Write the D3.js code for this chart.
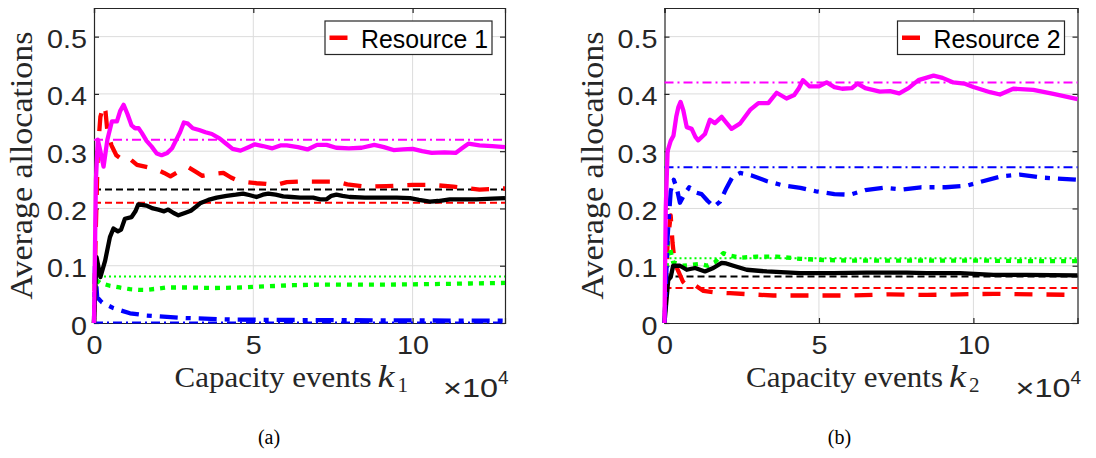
<!DOCTYPE html>
<html>
<head>
<meta charset="utf-8">
<script src="https://cdn.jsdelivr.net/npm/d3@7"></script>
<style>
  html, body { margin: 0; padding: 0; background: #fff; }
  svg { display: block; }
</style>
</head>
<body>
<svg id="fig" width="1096" height="458"></svg>
<script>
// ---- shared axis ticks ----
const xTicks = [0, 5, 10];
const yTicks = [0, 0.1, 0.2, 0.3, 0.4, 0.5];
const yTickLabels = ["0", "0.1", "0.2", "0.3", "0.4", "0.5"];

// ---- panel (a): resource 1, average allocation per user class (x in units of 10^4) ----
const aMagenta = [[0,0],[0.06,0.25],[0.12,0.32],[0.2,0.3],[0.3,0.273],[0.42,0.32],[0.56,0.352],[0.72,0.352],[0.82,0.37],[0.93,0.381],[1.05,0.365],[1.18,0.345],[1.29,0.34],[1.4,0.34],[1.5,0.332],[1.65,0.318],[1.81,0.308],[1.97,0.296],[2.12,0.293],[2.3,0.297],[2.45,0.305],[2.6,0.322],[2.7,0.333],[2.82,0.35],[2.95,0.348],[3.1,0.34],[3.3,0.337],[3.5,0.333],[3.7,0.33],[3.95,0.322],[4.15,0.313],[4.35,0.304],[4.6,0.301],[4.85,0.307],[5.05,0.312],[5.3,0.309],[5.6,0.305],[5.85,0.31],[6.05,0.31],[6.4,0.307],[6.7,0.303],[7.0,0.311],[7.3,0.311],[7.6,0.306],[8.0,0.305],[8.4,0.306],[8.8,0.311],[9.1,0.307],[9.4,0.302],[9.7,0.303],[10.0,0.304],[10.3,0.3],[10.6,0.297],[11.0,0.298],[11.35,0.297],[11.55,0.305],[11.75,0.313],[12.1,0.31],[12.5,0.309],[12.9,0.307]];
const aRed = [[0,0],[0.05,0.15],[0.12,0.3],[0.2,0.36],[0.3,0.38],[0.36,0.37],[0.42,0.335],[0.55,0.31],[0.7,0.293],[0.87,0.286],[1.05,0.29],[1.2,0.283],[1.35,0.276],[1.6,0.273],[1.97,0.268],[2.2,0.262],[2.4,0.256],[2.7,0.266],[2.96,0.272],[3.2,0.264],[3.4,0.257],[3.7,0.26],[4.06,0.262],[4.3,0.254],[4.5,0.249],[4.8,0.246],[5.1,0.244],[5.4,0.243],[5.7,0.241],[6.05,0.246],[6.4,0.247],[6.88,0.247],[7.3,0.247],[7.61,0.247],[7.95,0.242],[8.56,0.238],[9.18,0.239],[10.0,0.241],[10.65,0.241],[11.28,0.238],[12.1,0.233],[12.9,0.235]];
const aBlack = [[0,0],[0.08,0.115],[0.2,0.08],[0.35,0.109],[0.5,0.15],[0.61,0.165],[0.75,0.16],[0.85,0.163],[0.97,0.182],[1.18,0.185],[1.3,0.195],[1.39,0.207],[1.65,0.205],[1.85,0.2],[2.02,0.198],[2.2,0.195],[2.33,0.198],[2.5,0.192],[2.65,0.188],[2.85,0.192],[3.04,0.196],[3.2,0.203],[3.33,0.209],[3.59,0.215],[3.85,0.219],[4.16,0.222],[4.45,0.224],[4.68,0.226],[4.9,0.223],[5.1,0.22],[5.3,0.224],[5.47,0.226],[5.7,0.224],[5.94,0.221],[6.2,0.22],[6.47,0.219],[6.88,0.219],[7.1,0.216],[7.3,0.216],[7.45,0.222],[7.61,0.224],[7.8,0.222],[8.03,0.22],[8.5,0.219],[9.08,0.219],[9.5,0.219],[9.92,0.218],[10.2,0.215],[10.54,0.212],[10.8,0.213],[11.17,0.216],[11.6,0.216],[12.0,0.216],[12.5,0.217],[12.9,0.218]];
const aGreen = [[0,0],[0.05,0.076],[0.19,0.07],[0.5,0.065],[0.8,0.062],[1.13,0.059],[1.4,0.058],[1.65,0.058],[2.0,0.06],[2.28,0.062],[3.01,0.062],[3.74,0.061],[4.58,0.062],[5.42,0.064],[6.25,0.066],[7.09,0.067],[8.0,0.067],[9.08,0.067],[10.65,0.068],[11.8,0.069],[12.9,0.07]];
const aBlue = [[0,0],[0.03,0.1],[0.1,0.045],[0.25,0.036],[0.61,0.026],[1.13,0.017],[1.65,0.013],[2.7,0.009],[4.3,0.006],[7.0,0.005],[12.9,0.004]];
// reference (target) levels for panel (a)
const aTargets = { magenta: 0.32, black: 0.233, red: 0.21, green: 0.081, blue: 0.001 };

// ---- panel (b): resource 2 ----
const bMagenta = [[0,0],[0.04,0.2],[0.1,0.3],[0.2,0.318],[0.29,0.327],[0.38,0.36],[0.45,0.377],[0.52,0.386],[0.61,0.371],[0.72,0.342],[0.88,0.339],[1.0,0.325],[1.09,0.319],[1.31,0.33],[1.47,0.355],[1.63,0.349],[1.85,0.36],[2.0,0.35],[2.17,0.339],[2.44,0.348],[2.77,0.372],[3.04,0.384],[3.36,0.384],[3.63,0.402],[3.95,0.392],[4.2,0.398],[4.35,0.41],[4.48,0.424],[4.7,0.413],[5.0,0.413],[5.25,0.42],[5.5,0.412],[5.75,0.409],[6.06,0.41],[6.25,0.418],[6.5,0.41],[6.97,0.404],[7.3,0.405],[7.6,0.401],[7.9,0.41],[8.22,0.424],[8.71,0.432],[9.0,0.428],[9.35,0.42],[9.7,0.418],[10.0,0.412],[10.54,0.403],[10.86,0.399],[11.29,0.409],[11.94,0.407],[12.59,0.4],[13.37,0.391]];
const bBlue = [[0,0],[0.1,0.15],[0.2,0.23],[0.3,0.25],[0.4,0.235],[0.5,0.21],[0.65,0.225],[0.8,0.237],[1.0,0.228],[1.2,0.225],[1.4,0.213],[1.6,0.203],[1.8,0.212],[2.0,0.235],[2.2,0.255],[2.45,0.262],[2.8,0.258],[3.3,0.248],[3.85,0.24],[4.4,0.236],[4.9,0.23],[5.5,0.225],[6.0,0.224],[6.5,0.232],[7.1,0.236],[7.7,0.233],[8.3,0.237],[9.1,0.237],[9.8,0.24],[10.2,0.246],[10.9,0.256],[11.5,0.259],[12.2,0.254],[13.37,0.25]];
const bGreen = [[0,0],[0.1,0.14],[0.18,0.13],[0.28,0.106],[0.61,0.1],[1.15,0.103],[1.4,0.1],[1.63,0.106],[1.9,0.122],[2.1,0.118],[2.44,0.114],[2.98,0.116],[3.63,0.116],[4.39,0.112],[5.14,0.11],[6.0,0.109],[7.08,0.109],[8.0,0.109],[9.0,0.109],[10.1,0.109],[11.7,0.108],[13.37,0.108]];
const bBlack = [[0,0],[0.12,0.075],[0.2,0.08],[0.28,0.1],[0.5,0.1],[0.72,0.093],[0.99,0.096],[1.31,0.09],[1.58,0.096],[1.85,0.105],[2.0,0.104],[2.23,0.1],[2.66,0.093],[3.31,0.09],[4.39,0.087],[5.46,0.087],[6.54,0.088],[7.84,0.088],[8.49,0.087],[9.57,0.087],[10.65,0.084],[11.73,0.084],[13.37,0.083]];
const bRed = [[0,0],[0.1,0.14],[0.2,0.188],[0.26,0.14],[0.33,0.105],[0.45,0.09],[0.6,0.072],[0.72,0.065],[0.93,0.068],[1.26,0.056],[1.7,0.053],[2.12,0.052],[2.8,0.05],[3.52,0.048],[4.82,0.048],[6.0,0.048],[7.3,0.05],[8.5,0.049],[10.65,0.051],[13.37,0.049]];
const bTargets = { magenta: 0.42, blue: 0.272, green: 0.113, black: 0.081, red: 0.061 };

// ---- styles ----
const colors = { magenta: "#ff00ff", red: "#ff0000", green: "#00ff00", black: "#000000", blue: "#0000ff" };
const thickDash = { magenta: null, red: "18,14", green: "5,6", black: null, blue: "18,8,5,8" };
const thinDash = { magenta: "9,4,2,4", red: "7,4", green: "2,3", black: "7,4", blue: "9,4,2,4" };
const AXIS = "#262626";
const SANS = "'Liberation Sans', Arial, sans-serif";
const SERIF = "'Liberation Serif', 'Times New Roman', serif";
const TICK_STRETCH = 1.15;

const svg = d3.select("#fig");

function drawPanel(opt) {
  const { left, right, top, bottom, xMax, series, targets, legendText, sub, caption } = opt;
  const x = d3.scaleLinear().domain([0, xMax]).range([left, right]);
  const y = d3.scaleLinear().domain([0, 0.55]).range([bottom, top]);
  const g = svg.append("g");

  // background + grid
  g.append("rect").attr("x", left).attr("y", top).attr("width", right - left).attr("height", bottom - top).attr("fill", "#fff");
  g.append("g").selectAll("line").data(xTicks.slice(1)).join("line")
    .attr("x1", d => x(d)).attr("x2", d => x(d)).attr("y1", top).attr("y2", bottom)
    .attr("stroke", "#dcdcdc").attr("stroke-width", 1);
  g.append("g").selectAll("line").data(yTicks.slice(1)).join("line")
    .attr("x1", left).attr("x2", right).attr("y1", d => y(d)).attr("y2", d => y(d))
    .attr("stroke", "#dcdcdc").attr("stroke-width", 1);

  // axes (ticks inside, mirrored on top/right)
  const tl = 5;
  const xb = g.append("g").attr("transform", `translate(0,${bottom})`)
    .call(d3.axisBottom(x).tickValues(xTicks).tickSize(-tl).tickFormat(d3.format("d")));
  const xt = g.append("g").attr("transform", `translate(0,${top})`)
    .call(d3.axisTop(x).tickValues(xTicks).tickSize(-tl).tickFormat(""));
  const yl = g.append("g").attr("transform", `translate(${left},0)`)
    .call(d3.axisLeft(y).tickValues(yTicks).tickSize(-tl).tickFormat((d, i) => yTickLabels[i]));
  const yr = g.append("g").attr("transform", `translate(${right},0)`)
    .call(d3.axisRight(y).tickValues(yTicks).tickSize(-tl).tickFormat(""));
  [xb, xt, yl, yr].forEach(a => {
    a.select(".domain").attr("stroke", AXIS).attr("stroke-width", 1.2);
    a.selectAll(".tick line").attr("stroke", AXIS).attr("stroke-width", 1.2);
    a.selectAll("text").attr("fill", AXIS).attr("font-family", SANS).attr("font-size", 25);
  });
  // tick labels are slightly wide, as in the exported figure
  xb.selectAll(".tick text").attr("x", 0).attr("y", 13).attr("dy", "0.71em")
    .attr("transform", `scale(${TICK_STRETCH},1)`);
  yl.selectAll(".tick text").attr("x", -7 / TICK_STRETCH).attr("y", 2).attr("dy", "0.36em")
    .attr("transform", `scale(${TICK_STRETCH},1)`);

  // data layer
  const line = d3.line().x(d => x(d[0])).y(d => y(d[1]));
  const clipId = "clip-" + sub;
  svg.append("clipPath").attr("id", clipId).append("rect")
    .attr("x", left - 3).attr("y", top - 3).attr("width", right - left + 6).attr("height", bottom - top + 6);
  const data = g.append("g").attr("clip-path", `url(#${clipId})`);

  // target levels (thin)
  Object.keys(targets).forEach(k => {
    data.append("path").datum([[0, targets[k]], [xMax, targets[k]]])
      .attr("d", line).attr("fill", "none").attr("stroke", colors[k])
      .attr("stroke-width", 2).attr("stroke-dasharray", thinDash[k]);
  });
  // running averages (thick)
  series.forEach(s => {
    data.append("path").datum(s.pts)
      .attr("d", line).attr("fill", "none").attr("stroke", colors[s.key])
      .attr("stroke-width", 4.3).attr("stroke-linejoin", "round")
      .attr("stroke-dasharray", thickDash[s.key]);
  });

  // legend
  const lx = right - 180, ly = top + 13, lw = 167, lh = 33.5;
  g.append("rect").attr("x", lx).attr("y", ly).attr("width", lw).attr("height", lh)
    .attr("fill", "#fff").attr("stroke", AXIS).attr("stroke-width", 1.2);
  g.append("line").attr("x1", lx + 4.5).attr("x2", lx + 22.5).attr("y1", ly + lh / 2).attr("y2", ly + lh / 2)
    .attr("stroke", colors.red).attr("stroke-width", 4.5);
  g.append("text").attr("x", lx + 36).attr("y", ly + 27).text(legendText)
    .attr("font-family", SANS).attr("font-size", 25).attr("fill", "#000")
    .attr("textLength", 127).attr("lengthAdjust", "spacingAndGlyphs");

  // y label
  const cy = (top + bottom) / 2;
  g.append("text").attr("transform", `translate(${left - 62},${cy}) rotate(-90)`)
    .attr("text-anchor", "middle").text("Average allocations")
    .attr("font-family", SERIF).attr("font-size", 32)
    .attr("fill", AXIS).attr("textLength", 268).attr("lengthAdjust", "spacingAndGlyphs");

  // x label: Capacity events k_i
  const cx = (left + right) / 2;
  const sx = cx - 125, base = bottom + 64;
  g.append("text").attr("x", sx).attr("y", base).text("Capacity events")
    .attr("font-family", SERIF).attr("font-size", 30).attr("fill", AXIS)
    .attr("textLength", 197).attr("lengthAdjust", "spacingAndGlyphs");
  g.append("text").attr("x", sx + 203).attr("y", base).text("k")
    .attr("font-family", SERIF).attr("font-style", "italic").attr("font-size", 31).attr("fill", AXIS)
    .attr("textLength", 17).attr("lengthAdjust", "spacingAndGlyphs");
  g.append("text").attr("x", sx + 223).attr("y", base + 5).text(sub)
    .attr("font-family", SERIF).attr("font-size", 21).attr("fill", AXIS);

  // x exponent
  g.append("text").attr("x", right - 62).attr("y", bottom + 74).text("\u00d710")
    .attr("font-family", SANS).attr("font-size", 26).attr("fill", AXIS)
    .attr("textLength", 55).attr("lengthAdjust", "spacingAndGlyphs");
  g.append("text").attr("x", right - 7).attr("y", bottom + 61).text("4")
    .attr("font-family", SANS).attr("font-size", 19).attr("fill", AXIS);

  // caption
  svg.append("text").attr("x", left + 175).attr("y", 444).attr("text-anchor", "middle").text(caption)
    .attr("font-family", SERIF).attr("font-size", 20).attr("fill", "#000");
}

drawPanel({
  left: 94, right: 505, top: 8, bottom: 323, xMax: 12.9,
  series: [
    { key: "blue", pts: aBlue }, { key: "green", pts: aGreen }, { key: "red", pts: aRed },
    { key: "black", pts: aBlack }, { key: "magenta", pts: aMagenta }
  ],
  targets: aTargets, legendText: "Resource 1", sub: "1", caption: "(a)"
});

drawPanel({
  left: 664.5, right: 1077.5, top: 8, bottom: 323, xMax: 13.37,
  series: [
    { key: "red", pts: bRed }, { key: "green", pts: bGreen }, { key: "black", pts: bBlack },
    { key: "blue", pts: bBlue }, { key: "magenta", pts: bMagenta }
  ],
  targets: bTargets, legendText: "Resource 2", sub: "2", caption: "(b)"
});
</script>
</body>
</html>
